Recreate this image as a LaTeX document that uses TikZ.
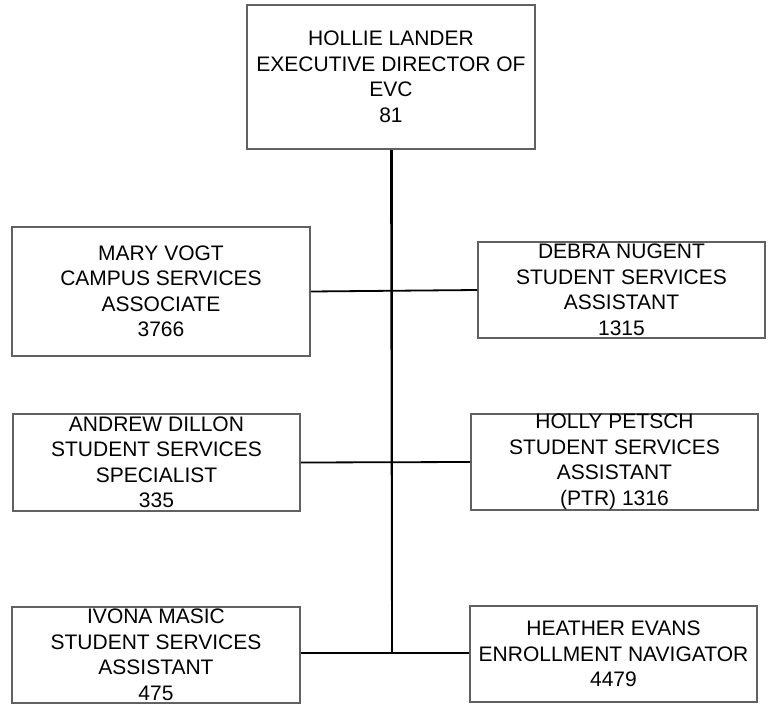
\documentclass[tikz,border=0pt]{standalone}
\usepackage{fontspec}
\setmainfont{Liberation Sans}
\begin{document}
\begin{tikzpicture}[x=1pt,y=-1pt,
  card/.style={draw=black!62, line width=1.6pt, fill=white, align=center, inner sep=0pt,
    font=\fontsize{21}{25.5}\selectfont},
  link/.style={draw=black, line width=1.8pt}]
\useasboundingbox (0,0) rectangle (769,704);
\coordinate (bot) at (392,653);
\draw[link] (392,149) -- (bot);
\node[card, minimum width=288, minimum height=144] (top) at (391,77) {HOLLIE LANDER\\EXECUTIVE DIRECTOR OF\\EVC\\81};
\node[card, minimum width=298, minimum height=129] (mary) at (161,291.5) {MARY VOGT\\CAMPUS SERVICES\\ASSOCIATE\\3766};
\node[card, minimum width=287, minimum height=96] (debra) at (621.5,290) {DEBRA NUGENT\\STUDENT SERVICES\\ASSISTANT\\1315};
\node[card, minimum width=287, minimum height=97] (andrew) at (156.5,462.5) {ANDREW DILLON\\STUDENT SERVICES\\SPECIALIST\\335};
\node[card, minimum width=287, minimum height=96] (holly) at (614.5,462) {HOLLY PETSCH\\STUDENT SERVICES\\ASSISTANT\\(PTR) 1316};
\node[card, minimum width=288, minimum height=96] (ivona) at (156,655) {IVONA MASIC\\STUDENT SERVICES\\ASSISTANT\\475};
\node[card, minimum width=287, minimum height=96] (heather) at (613.5,654) {HEATHER EVANS\\ENROLLMENT NAVIGATOR\\4479};
\draw[link] (top.south) -- (bot);
\draw[link] (mary.east) -- (debra.west);
\draw[link] (andrew.east) -- (holly.west);
\draw[link] (ivona.east |- bot) -- (heather.west |- bot);
\end{tikzpicture}
\end{document}
